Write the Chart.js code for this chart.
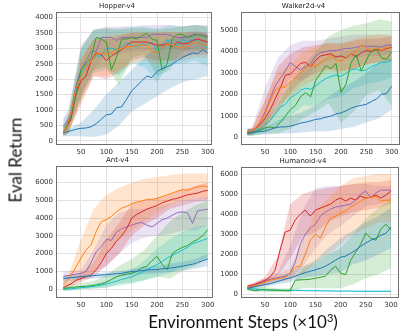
<!DOCTYPE html>
<html>
<head>
<meta charset="utf-8">
<script src="https://cdn.jsdelivr.net/npm/chart.js@4.4.1/dist/chart.umd.min.js"></script>
<style>
  body { margin: 0; background: #fff; width: 407px; height: 332px; position: relative; overflow: hidden; }
  canvas { position: absolute; }
  .lab { position: absolute; font-family: Lato, sans-serif; color: #111; white-space: nowrap; }
  #ylab { left: 15px; top: 160px; font-size: 17px; transform: translate(-50%, -50%) rotate(-90deg); }
  #xlab { left: 243px; top: 321px; font-size: 17px; transform: translate(-50%, -50%); }
  #xlab sup { font-size: 11px; vertical-align: 6px; line-height: 0; }
</style>
</head>
<body>
<canvas id="hopper"></canvas>
<canvas id="walker"></canvas>
<canvas id="ant"></canvas>
<canvas id="humanoid"></canvas>
<div class="lab" id="ylab">Eval Return</div>
<div class="lab" id="xlab">Environment Steps (×10<sup>3</sup>)</div>
<script>
// x positions (thousands of steps) of the mean curves and of the shaded bands
const X_MEAN = [15,20,30,40,50,60,70,80,90,100,110,120,130,140,150,160,170,180,190,200,210,220,230,240,250,260,270,280,290,300];
const X_BAND = [15,25,50,75,100,125,150,175,200,225,250,275,300];
const X_TICKS = [50,100,150,200,250,300];

// series order in every array: blue, orange, green, red, purple, cyan
const SERIES_COLORS = ['#1f77b4','#ff7f0e','#2ca02c','#d62728','#9467bd','#17becf'];

// ---- Hopper-v4
const hopperMean = [
  [250,280,330,380,410,420,460,560,700,850,870,1080,1100,1350,1620,1780,1950,2100,2050,2250,2330,2400,2480,2600,2700,2780,2850,2820,2950,2850],
  [250,400,900,1700,2100,2300,2600,2800,2850,2800,2850,2950,3000,3050,3050,3100,3100,3100,2900,2850,3000,3150,3100,3050,3000,3050,3150,3200,3100,3100],
  [300,400,800,1500,2300,2500,2700,3350,3300,3200,2300,2700,3300,3300,3350,3300,3400,3480,3300,3250,2300,2500,3300,3450,3450,3350,3400,3450,3400,3350],
  [250,400,700,1500,1950,2100,2600,2850,2800,2600,2750,2850,2950,3100,3200,3200,3200,3200,3150,3100,3100,3150,3050,3200,3150,3150,3250,3300,3250,3200],
  [500,550,900,1800,2300,2600,2900,2900,3350,3350,3350,3250,3350,3350,3350,3350,3350,3350,3450,3450,3450,3450,3400,3350,3350,3350,3450,3450,3450,3400],
  [450,450,800,1600,2200,2400,2600,2750,2750,3000,3000,2950,3050,3200,3100,3050,3150,3100,3200,2900,2950,3300,3050,3100,3300,3200,3300,3200,3100,3000]
];
const hopperLo = [
  [150,150,150,130,200,500,950,1200,1450,1700,1900,2000,2100],
  [150,250,1300,2100,2100,2300,2500,2600,2500,2600,2600,2700,2700],
  [150,250,1400,2300,2400,1800,2700,2800,2100,2300,2900,2900,2900],
  [150,250,1200,2100,2000,2200,2600,2700,2600,2600,2700,2800,2800],
  [300,400,1500,2300,2800,2800,2900,2900,3000,3000,2900,3000,3000],
  [200,350,1400,2200,2300,2100,2500,2400,1900,2500,2500,2600,2400]
];
const hopperHi = [
  [350,400,600,1000,1500,1900,2300,2700,3100,3300,3400,3500,3400],
  [400,650,2700,3300,3400,3450,3500,3500,3500,3550,3500,3500,3450],
  [500,800,3000,3600,3650,3600,3650,3650,3600,3650,3700,3750,3700],
  [400,700,2600,3300,3300,3400,3500,3500,3500,3500,3500,3550,3500],
  [700,1000,3100,3600,3700,3700,3700,3750,3750,3750,3700,3750,3750],
  [700,950,3000,3600,3650,3650,3700,3700,3650,3750,3700,3750,3700]
];
const hopperYTicks = [0,500,1000,1500,2000,2500,3000,3500,4000];

// ---- Walker2d-v4
const walkerMean = [
  [200,220,260,280,300,380,460,500,500,540,600,680,720,780,850,880,950,1000,1100,1150,1250,1380,1450,1500,1550,1680,1800,2020,2050,2400],
  [250,270,400,700,1100,1700,2200,2350,2350,2600,2800,3000,3200,3400,3300,3500,3650,3850,3600,3550,3700,3900,4000,4300,4150,4050,4200,4050,4200,4150],
  [200,220,280,350,450,500,450,700,1000,1300,1500,1900,2100,1900,2650,3000,3350,3200,3450,2100,2500,3500,3850,3100,3600,4050,4100,3700,3650,4000],
  [250,280,400,600,900,1300,1800,2300,2900,2950,3200,3450,3500,3300,3600,3800,3850,3900,3750,3800,3700,3900,3750,3950,4050,4000,4100,4050,4150,4200],
  [250,280,400,700,1200,1800,2400,2750,3100,3500,3300,3150,3300,3450,3800,3950,4000,4050,4050,4100,4150,4150,4200,4250,4250,4250,4250,4200,4300,4300],
  [200,230,300,400,600,800,1100,1400,1550,1850,2000,2200,2300,2250,2400,2600,2750,2850,2900,2850,3000,3150,3200,3100,3150,3300,3400,3500,3500,3600]
];
const walkerLo = [
  [100,100,150,200,200,250,300,300,400,500,700,900,1300],
  [100,150,500,1500,1900,2400,2700,3100,3000,3200,3400,3500,3600],
  [100,100,200,200,400,900,1200,1600,700,1200,2000,2200,1500],
  [100,150,400,1200,2100,2700,3000,3200,3100,3200,3400,3500,3600],
  [100,150,600,1700,2800,2600,3300,3600,3700,3700,3800,3800,3900],
  [100,100,300,600,1000,1500,1500,1800,1900,2300,2500,2600,2800]
];
const walkerHi = [
  [400,400,500,800,1000,1200,1500,1900,2300,2600,3000,3500,3700],
  [400,450,1800,3000,3400,4000,4200,4400,4300,4600,4700,4800,4700],
  [400,400,800,1500,2500,3300,4000,4700,5000,5200,5300,5500,5400],
  [400,450,1700,3300,3900,4200,4300,4400,4400,4500,4600,4600,4700],
  [400,500,2300,3700,4300,4500,4500,4600,4700,4800,4800,4800,4800],
  [400,400,1000,1800,2600,3000,3400,3700,3900,4100,4200,4300,4400]
];
const walkerYTicks = [0,1000,2000,3000,4000,5000];

// ---- Ant-v4
const antMean = [
  [600,620,650,680,700,730,750,780,800,820,850,880,900,950,1000,1020,1050,1080,1100,1100,1150,1180,1200,1250,1300,1350,1400,1500,1600,1700],
  [300,380,800,1250,1750,2200,2500,3250,3800,3900,4100,4350,4550,4650,4800,4900,4950,5050,5050,5100,5200,5300,5400,5500,5600,5550,5650,5750,5800,5750],
  [50,60,100,130,150,170,200,250,300,400,550,700,800,850,900,1000,1200,1300,1600,1850,1400,1100,2000,2200,2350,2450,2650,2800,3000,3350],
  [100,150,300,500,600,700,800,1100,1500,2000,2300,2700,3000,3400,4000,4200,4350,4500,4600,4700,4850,4950,5050,5100,5200,5300,5350,5400,5500,5550],
  [700,750,800,850,900,1000,1500,2100,2400,2800,2750,3200,3400,3500,3600,3700,3750,3600,3500,3700,3900,4000,4150,4300,4350,4300,3700,4400,4450,4500],
  [0,10,30,60,90,110,140,180,230,300,380,450,550,620,700,820,950,1100,1250,1380,1550,1750,1900,2050,2200,2350,2550,2650,2750,2850]
];
const antLo = [
  [400,450,550,600,650,700,800,850,900,950,1050,1150,1300],
  [100,200,500,1000,2000,2800,3300,3800,4300,4700,5000,5100,5100],
  [-100,-50,0,50,100,300,400,500,700,600,1000,1300,1700],
  [0,100,400,700,1300,2000,3000,3600,4000,4500,4700,4900,5000],
  [400,500,700,900,1300,2000,2600,2900,3000,3100,3300,3300,3600],
  [-100,-100,0,50,100,200,300,500,700,900,1200,1500,1800]
];
const antHi = [
  [800,800,800,900,950,1000,1150,1250,1300,1450,1550,1700,2000],
  [600,800,2800,4500,5300,5700,6000,6200,6300,6400,6500,6500,6500],
  [200,250,350,450,800,1300,1700,2200,3000,3800,4300,4700,5000],
  [300,400,900,1500,2800,3700,4800,5000,5100,5300,5600,5800,6000],
  [1000,1000,1100,2200,3600,4300,4500,4500,4600,4800,5000,5100,5200],
  [100,100,200,300,500,800,1100,1600,2300,2800,3200,3500,3600]
];
const antYTicks = [0,1000,2000,3000,4000,5000,6000];

// ---- Humanoid-v4
const humanoidMean = [
  [300,320,380,430,480,530,600,680,750,820,900,1000,1080,1150,1220,1300,1400,1550,1700,1850,1900,2050,2200,2400,2550,2700,2800,2950,3050,3350],
  [350,370,430,500,600,700,750,800,850,1050,1350,1400,2000,2700,3000,2800,3350,3800,3900,4050,4150,4350,4500,4650,4800,4850,4880,4650,4700,4700],
  [250,230,170,220,230,210,200,190,180,180,700,720,730,750,800,850,900,1200,1400,1050,980,1700,2100,2500,3050,2800,2700,3250,3500,3200],
  [400,430,500,600,700,850,1200,2200,3100,3200,3700,4000,4200,3900,4200,4300,4400,4500,4700,4800,4650,4800,4700,4900,4800,4850,4950,4800,4950,5150],
  [350,380,450,550,650,750,800,850,900,1050,1600,2500,3000,3300,3500,3900,4100,4250,4350,4400,4450,4500,4700,5000,5150,4800,5050,5200,5200,5200],
  [300,280,250,230,220,210,210,200,200,200,190,190,180,180,180,170,170,170,160,160,160,160,150,150,150,150,150,150,150,150]
];
const humanoidLo = [
  [200,220,350,500,600,800,900,1000,1100,1500,1700,2000,2300],
  [250,300,450,600,700,1000,1600,2000,2500,3000,3300,3600,3600],
  [150,150,100,100,100,300,300,300,300,500,800,1000,1300],
  [300,350,550,900,1800,2900,3100,3600,3900,4100,4200,4300,4500],
  [250,300,500,600,800,1400,2300,3000,3400,3900,4400,4500,4700],
  [250,230,180,160,150,140,130,120,110,110,100,100,100]
];
const humanoidHi = [
  [400,450,600,900,1100,1400,1700,2300,2800,3200,3600,3900,4300],
  [450,500,750,1000,1300,2700,4200,4800,5400,5800,5900,6000,6000],
  [350,350,350,300,300,1300,1600,2000,2300,3000,3800,4300,4800],
  [500,550,850,1900,4500,5000,5200,5300,5400,5500,5600,5600,5700],
  [450,500,800,1100,2400,4200,5300,5400,5400,5500,5500,5400,5400],
  [350,330,280,260,250,230,220,210,200,200,200,200,200]
];
const humanoidYTicks = [0,1000,2000,3000,4000,5000,6000];

function rgba(hex, a) {
  const n = parseInt(hex.slice(1), 16);
  return `rgba(${n >> 16},${(n >> 8) & 255},${n & 255},${a})`;
}

const framePlugin = {
  id: 'frame',
  afterDatasetsDraw(chart) {
    const a = chart.chartArea, ctx = chart.ctx;
    ctx.save();
    ctx.strokeStyle = '#6e6e6e';
    ctx.lineWidth = 1;
    ctx.strokeRect(Math.round(a.left) + 0.5, Math.round(a.top) + 0.5,
      Math.round(a.right - a.left) - 1, Math.round(a.bottom - a.top) - 1);
    ctx.restore();
  }
};

const Y_AXIS_W = 34, X_AXIS_H = 14, TITLE_H = 10, PAD_R = 8;
const tickFont = { family: 'DejaVu Sans', size: 7 };

function panel(id, title, box, xRange, yRange, yTicks, mean, lo, hi) {
  const cv = document.getElementById(id);
  const w = Y_AXIS_W + (box.R - box.L) + PAD_R;
  const h = TITLE_H + (box.B - box.T) + X_AXIS_H;
  cv.width = w; cv.height = h;
  cv.style.left = (box.L - Y_AXIS_W) + 'px';
  cv.style.top = (box.T - TITLE_H) + 'px';

  const datasets = [];
  SERIES_COLORS.forEach((c, i) => {
    datasets.push({ data: lo[i].map((y, k) => ({ x: X_BAND[k], y })), borderWidth: 0,
      borderColor: 'rgba(0,0,0,0)', pointRadius: 0, fill: false, order: 1 });
    datasets.push({ data: hi[i].map((y, k) => ({ x: X_BAND[k], y })), borderWidth: 0,
      borderColor: 'rgba(0,0,0,0)', pointRadius: 0, fill: '-1', backgroundColor: rgba(c, 0.2), order: 1 });
  });
  SERIES_COLORS.forEach((c, i) => {
    datasets.push({ data: mean[i].map((y, k) => ({ x: X_MEAN[k], y })), borderColor: c,
      borderWidth: 1, pointRadius: 0, fill: false, order: 0 });
  });

  new Chart(cv, {
    type: 'line',
    data: { datasets },
    plugins: [framePlugin],
    options: {
      responsive: false,
      animation: false,
      events: [],
      layout: { padding: { left: 0, right: PAD_R, top: 0, bottom: 0 } },
      plugins: {
        legend: { display: false },
        tooltip: { enabled: false },
        title: { display: true, text: title, color: '#222', font: { family: 'DejaVu Sans', size: 7, weight: 'normal', lineHeight: 1 },
          padding: { top: 0, bottom: 2 } }
      },
      scales: {
        x: {
          type: 'linear', min: xRange[0], max: xRange[1],
          border: { display: false },
          grid: { color: '#e2e2e2', drawTicks: false },
          ticks: { font: tickFont, color: '#333', padding: 3, maxRotation: 0, callback: v => String(v) },
          afterBuildTicks: s => { s.ticks = X_TICKS.map(v => ({ value: v })); },
          afterFit: s => { s.height = X_AXIS_H; s.paddingLeft = 0; s.paddingRight = 0; }
        },
        y: {
          min: yRange[0], max: yRange[1],
          border: { display: false },
          grid: { color: '#e2e2e2', drawTicks: false },
          ticks: { font: tickFont, color: '#333', padding: 3, callback: v => String(v) },
          afterBuildTicks: s => { s.ticks = yTicks.map(v => ({ value: v })); },
          afterFit: s => { s.width = Y_AXIS_W; s.paddingTop = 0; s.paddingBottom = 0; }
        }
      }
    }
  });
}

panel('hopper', 'Hopper-v4', { L: 56, T: 13, R: 212, B: 145 }, [0.7, 308.5], [-130, 4173], hopperYTicks, hopperMean, hopperLo, hopperHi);
panel('walker', 'Walker2d-v4', { L: 241, T: 13, R: 400, B: 145 }, [2.6, 316.4], [-340, 5840], walkerYTicks, walkerMean, walkerLo, walkerHi);
panel('ant', 'Ant-v4', { L: 56, T: 167, R: 213, B: 298 }, [0.7, 310.5], [-490, 6920], antYTicks, antMean, antLo, antHi);
panel('humanoid', 'Humanoid-v4', { L: 241, T: 168, R: 399, B: 298 }, [2.4, 315.9], [-186, 6352], humanoidYTicks, humanoidMean, humanoidLo, humanoidHi);
</script>
</body>
</html>
